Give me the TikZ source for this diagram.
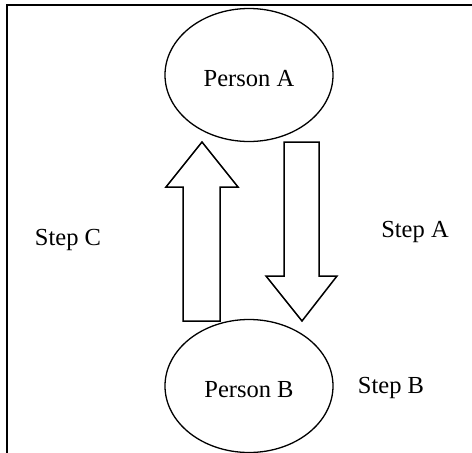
\documentclass[tikz,border=0pt]{standalone}
\usepackage{fontspec}
\setmainfont{Liberation Serif}
\usetikzlibrary{shapes.geometric}
\begin{document}
\begin{tikzpicture}[x=1pt,y=-1pt,
  person/.style={draw, line width=1.3pt, ellipse, minimum width=168pt, minimum height=133pt, inner sep=0pt},
  label/.style={font=\fontsize{24.5}{26}\selectfont, anchor=base, inner sep=0pt},
  blockarrow/.style={draw, line width=1.5pt, line join=miter, fill=white},
  frame/.style={line width=1.8pt, line cap=rect}]
  \useasboundingbox (0,0) rectangle (472,453);
  % open frame: top and left edges
  \draw[frame] (472,5) -- (7,5) -- (7,453);
  % people
  \node[person] (pa) at (249,75) {};
  \node[label] (ta) at (249,86) {Person A};
  \node[person] (pb) at (249,386) {};
  \node[label] (tb) at (249,397) {Person B};
  % block arrows
  \draw[blockarrow] (183,321) -- (183,187) -- (166,187) -- (202,142) -- (238,187) -- (220,187) -- (220,321) -- cycle;
  \draw[blockarrow] (284,142) -- (319,142) -- (319,276) -- (337,276) -- (302,321) -- (266,276) -- (284,276) -- cycle;
  % step labels
  \node[label] (sa) at (415,237) {Step A};
  \node[label] (sb) at (391,393) {Step B};
  \node[label] (sc) at (68,245) {Step C};
\end{tikzpicture}
\end{document}
